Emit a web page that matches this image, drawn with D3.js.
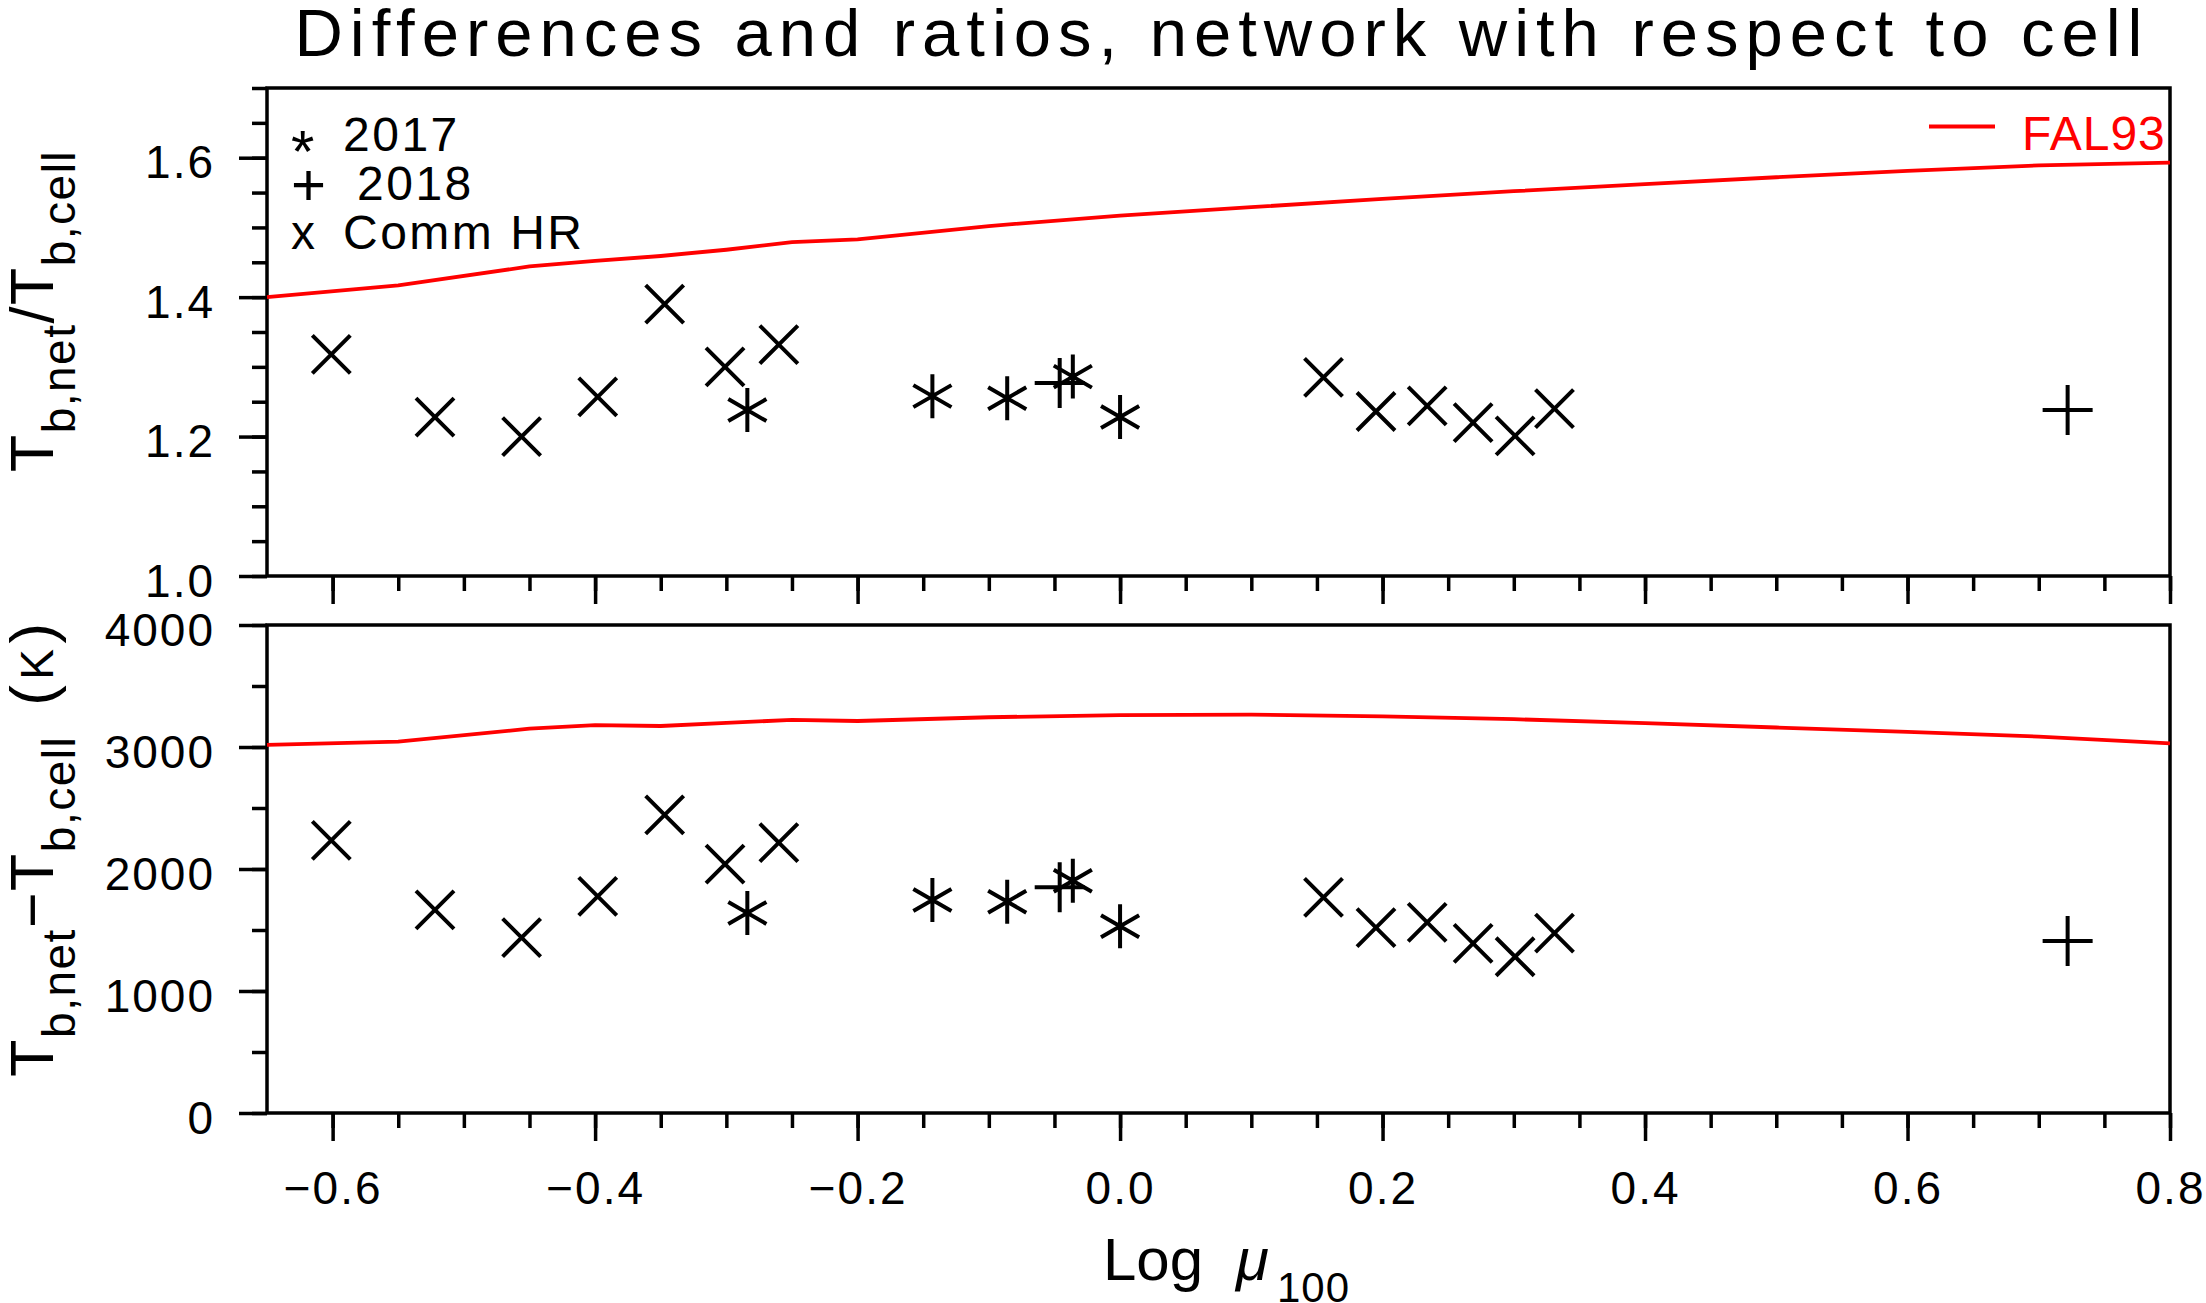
<!DOCTYPE html>
<html>
<head>
<meta charset="utf-8">
<script src="https://cdn.jsdelivr.net/npm/d3@7"></script>
<style>
  html, body { margin: 0; padding: 0; background: #fff; }
  svg { display: block; }
  text { font-family: "Liberation Sans", Arial, Helvetica, sans-serif; fill: #000; }
</style>
</head>
<body>
<script>
// ---- data ----
const commMu    = [-0.601, -0.522, -0.456, -0.398, -0.347, -0.301, -0.260, 0.155, 0.195, 0.234, 0.269, 0.301, 0.331];
const commRatio = [1.318, 1.228, 1.200, 1.257, 1.390, 1.300, 1.332, 1.285, 1.236, 1.244, 1.220, 1.201, 1.240];
const commDiff  = [2234, 1665, 1438, 1776, 2443, 2040, 2216, 1768, 1519, 1563, 1390, 1281, 1475];

const y2017Mu    = [-0.284, -0.143, -0.086, -0.036, 0.000];
const y2017Ratio = [1.238, 1.258, 1.255, 1.286, 1.228];
const y2017Diff  = [1640, 1746, 1732, 1904, 1530];

const y2018Mu    = [-0.046, 0.722];
const y2018Ratio = [1.277, 1.238];
const y2018Diff  = [1850, 1409];

const fal93Mu    = [-0.65, -0.55, -0.45, -0.40, -0.35, -0.30, -0.25, -0.20, -0.10, 0.00, 0.10, 0.20, 0.30, 0.40, 0.50, 0.60, 0.70, 0.80];
const fal93Ratio = [1.400, 1.417, 1.444, 1.452, 1.459, 1.468, 1.479, 1.483, 1.502, 1.517, 1.529, 1.541, 1.552, 1.562, 1.572, 1.581, 1.589, 1.593];
const fal93Diff  = [3017, 3044, 3150, 3180, 3172, 3198, 3222, 3213, 3244, 3261, 3266, 3251, 3228, 3195, 3160, 3124, 3085, 3030];

const legendLabels = ["2017", "2018", "Comm HR"];
const legendSymbols = ["*", "+", "x"];

const xTicks      = d3.range(-12, 17).map(i => +(i * 0.05).toFixed(2));
const xTicksMajor = xTicks.filter((v, i) => i % 4 === 0);
const ratioTicks      = d3.range(0, 15).map(i => +(1 + i * 0.05).toFixed(2));
const ratioTicksMajor = [1.0, 1.2, 1.4, 1.6];
const diffTicks      = d3.range(0, 9).map(i => i * 500);
const diffTicksMajor = [0, 1000, 2000, 3000, 4000];

(function(){
    const width = 2206;
    const height = 1303;
    const left = 267, right = 2170;
    const font = 46;

    const svg = d3.select("body")
        .append("svg")
        .attr("width", width)
        .attr("height", height);

    const x = d3.scaleLinear().domain([-0.65, 0.8]).range([left, right]);
    const yTop = d3.scaleLinear().domain([1.0, 1.7]).range([576, 88]);
    const yBot = d3.scaleLinear().domain([0, 4000]).range([1113, 625]);

    // marker shapes
    const markX = r => `M${-r},${-r}L${r},${r}M${-r},${r}L${r},${-r}`;
    const markPlus = r => `M${-r},0H${r}M0,${-r}V${r}`;
    const markStar = r => {
        const c = r * Math.cos(Math.PI / 6), s = r * Math.sin(Math.PI / 6);
        return `M0,${-r}V${r}M${-c},${-s}L${c},${s}M${-c},${s}L${c},${-s}`;
    };

    function panel(y, opts) {
        const g = svg.append("g");

        // minor ticks on left
        g.append("g")
            .attr("transform", `translate(${left},0)`)
            .call(d3.axisLeft(y).tickValues(opts.yMinor).tickSize(15).tickFormat(""))
            .call(a => a.select(".domain").remove());
        // major ticks + labels on left
        g.append("g")
            .attr("transform", `translate(${left},0)`)
            .call(d3.axisLeft(y).tickValues(opts.yMajor).tickSize(28).tickPadding(24).tickFormat(opts.yFormat))
            .call(a => a.select(".domain").remove())
            .call(a => a.selectAll("text")
                .attr("dy", null).attr("y", 20)
                .style("font-size", font + "px").style("letter-spacing", "2px")
                .attr("font-family", null));

        const yb = y.range()[0];
        g.append("g")
            .attr("transform", `translate(0,${yb})`)
            .call(d3.axisBottom(x).tickValues(xTicks).tickSize(15).tickFormat(""))
            .call(a => a.select(".domain").remove());
        const xa = g.append("g")
            .attr("transform", `translate(0,${yb})`)
            .call(d3.axisBottom(x).tickValues(xTicksMajor).tickSize(28).tickFormat(opts.xLabels ? d3.format(".1f") : ""))
            .call(a => a.select(".domain").remove());
        xa.selectAll("text")
            .attr("dy", null).attr("y", 91)
            .style("font-size", font + "px").style("letter-spacing", "2px")
            .attr("font-family", null);

        g.selectAll(".tick line").attr("stroke", "#000").attr("stroke-width", 3.5);

        // frame
        g.append("rect")
            .attr("x", left).attr("y", y.range()[1])
            .attr("width", right - left).attr("height", y.range()[0] - y.range()[1])
            .attr("fill", "none").attr("stroke", "#000").attr("stroke-width", 3.5);

        // FAL93 model line
        g.append("path")
            .datum(fal93Mu.map((m, i) => [m, opts.fal[i]]))
            .attr("fill", "none")
            .attr("stroke", "#ff0000")
            .attr("stroke-width", 3.8)
            .attr("d", d3.line().x(d => x(d[0])).y(d => y(d[1])));

        const sets = [
            { mu: commMu, v: opts.comm, d: markX(19) },
            { mu: y2017Mu, v: opts.v2017, d: markStar(22) },
            { mu: y2018Mu, v: opts.v2018, d: markPlus(25) }
        ];
        sets.forEach(s => {
            g.selectAll(null)
                .data(s.mu.map((m, i) => [m, s.v[i]]))
                .enter()
                .append("path")
                .attr("transform", d => `translate(${x(d[0])},${y(d[1])})`)
                .attr("d", s.d)
                .attr("fill", "none")
                .attr("stroke", "#000")
                .attr("stroke-width", 4);
        });
        return g;
    }

    panel(yTop, {
        yMinor: ratioTicks, yMajor: ratioTicksMajor, yFormat: d3.format(".1f"),
        xLabels: false, fal: fal93Ratio, comm: commRatio, v2017: y2017Ratio, v2018: y2018Ratio
    });
    panel(yBot, {
        yMinor: diffTicks, yMajor: diffTicksMajor, yFormat: d3.format("d"),
        xLabels: true, fal: fal93Diff, comm: commDiff, v2017: y2017Diff, v2018: y2018Diff
    });

    // Title
    svg.append("text")
        .attr("x", (left + right) / 2)
        .attr("y", 56)
        .attr("text-anchor", "middle")
        .attr("textLength", 1848)
        .attr("lengthAdjust", "spacing")
        .style("font-size", "67px")
        .text("Differences and ratios, network with respect to cell");

    // Legend (symbols as text)
    const legendSize = ["60px", "60px", "48px"];
    const legendDy = [21, 5, 0];
    const legendLabelX = [343, 357, 343];
    legendLabels.forEach((lab, i) => {
        const yy = 151 + i * 49;
        svg.append("text")
            .attr("x", 291).attr("y", yy + legendDy[i])
            .style("font-size", legendSize[i])
            .text(legendSymbols[i]);
        svg.append("text")
            .attr("x", legendLabelX[i]).attr("y", yy)
            .style("font-size", "48px").style("letter-spacing", "2.5px")
            .text(lab);
    });

    // FAL93 legend
    svg.append("line")
        .attr("x1", 1929).attr("x2", 1995)
        .attr("y1", 126.5).attr("y2", 126.5)
        .attr("stroke", "#ff0000").attr("stroke-width", 3.8);
    svg.append("text")
        .attr("x", 2022).attr("y", 150)
        .style("font-size", "48px").style("letter-spacing", "1px")
        .style("fill", "#ff0000")
        .text("FAL93");

    // Y axis titles
    const t1 = svg.append("text")
        .attr("transform", "translate(53,311) rotate(-90)")
        .attr("text-anchor", "middle")
        .style("letter-spacing", "1.5px");
    t1.append("tspan").style("font-size", "61px").text("T");
    t1.append("tspan").style("font-size", "46px").attr("dy", 22).text("b,net");
    t1.append("tspan").style("font-size", "61px").attr("dy", -22).text("/");
    t1.append("tspan").style("font-size", "61px").text("T");
    t1.append("tspan").style("font-size", "46px").attr("dy", 22).text("b,cell");

    const t2 = svg.append("text")
        .attr("transform", "translate(53,849) rotate(-90)")
        .attr("text-anchor", "middle")
        .style("letter-spacing", "1.5px");
    t2.append("tspan").style("font-size", "61px").text("T");
    t2.append("tspan").style("font-size", "46px").attr("dy", 22).text("b,net");
    t2.append("tspan").style("font-size", "61px").attr("dy", -22).text("\u2212");
    t2.append("tspan").style("font-size", "61px").text("T");
    t2.append("tspan").style("font-size", "46px").attr("dy", 22).text("b,cell");
    t2.append("tspan").style("font-size", "62px").attr("dy", -22).attr("dx", 30).text("(");
    t2.append("tspan").style("font-size", "46px").attr("dx", 4).text("K");
    t2.append("tspan").style("font-size", "62px").attr("dx", 4).text(")");

    // X axis title
    const tx = svg.append("text")
        .attr("x", 1103).attr("y", 1280);
    tx.append("tspan").style("font-size", "60px").text("Log");
    tx.append("tspan").style("font-size", "60px").style("font-style", "italic").attr("dx", 33).text("\u03bc");
    tx.append("tspan").style("font-size", "42px").attr("dx", 8).attr("dy", 22).style("letter-spacing", "1px").text("100");
})();
</script>
</body>
</html>
